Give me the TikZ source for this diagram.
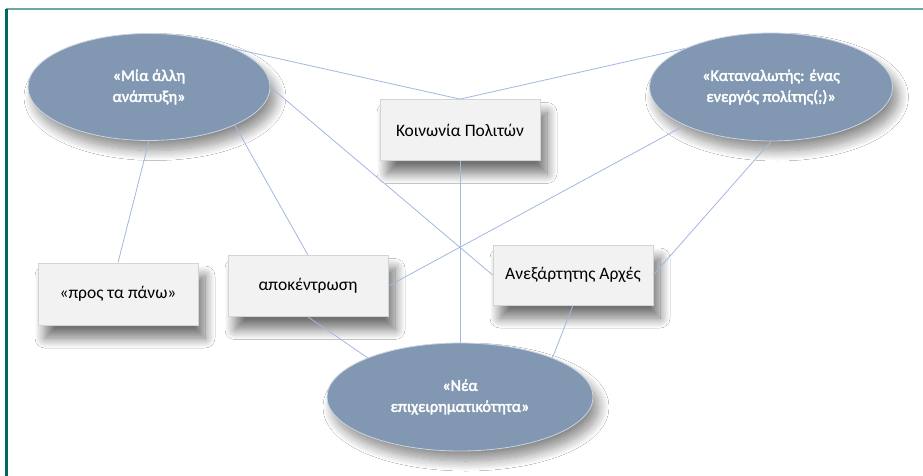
\documentclass[tikz,border=0pt]{standalone}
\usepackage{fontspec}
\setmainfont{Carlito}[AutoFakeBold=2.5]
\usetikzlibrary{shapes.geometric,shadows.blur}
\definecolor{ovalfill}{HTML}{8297B1}
\definecolor{ovaledge}{HTML}{C9D3E2}
\definecolor{cardfill}{HTML}{F2F2F2}
\definecolor{cardedge}{HTML}{D4D4D4}
\definecolor{linkblue}{HTML}{A3B8E0}
\definecolor{frametop}{HTML}{6FA5A2}
\definecolor{frameleft}{HTML}{00695E}
\tikzset{>=stealth,
  oval/.style={ellipse, fill=ovalfill, draw=ovaledge, line width=0.8pt, text=white,
    font=\fontsize{16.2}{21}\selectfont\bfseries, align=center, inner sep=0pt,
    blur shadow={shadow xshift=6pt, shadow yshift=-10pt, shadow blur radius=10pt, shadow opacity=45, shadow blur steps=14}},
  card/.style={rectangle, fill=cardfill, draw=cardedge, line width=0.8pt, text=black,
    font=\fontsize{17.5}{21}\selectfont, minimum width=160pt, minimum height=61pt, inner sep=0pt,
    blur shadow={shadow xshift=7pt, shadow yshift=-13pt, shadow blur radius=10pt, shadow opacity=55, shadow blur steps=14}},
  link/.style={draw=linkblue, line width=0.8pt}}

\begin{document}
\begin{tikzpicture}[x=1pt,y=-1pt]
\useasboundingbox[fill=white] (0,0) rectangle (923,476);
\draw[frametop, line width=2pt] (6,9.5) -- (923,9.5);
\draw[frameleft, line width=2.5pt] (6.5,9) -- (6.5,476);
\node[oval, minimum width=242pt, minimum height=107pt] (E1) at (149,87) {«Μία άλλη\\ανάπτυξη»};
\node[oval, minimum width=243pt, minimum height=108pt] (E2) at (771,87) {«Καταναλωτής: ένας\\ενεργός πολίτης(;)»};
\node[oval, minimum width=266pt, minimum height=108pt] (E3) at (460,397) {«Νέα\\επιχειρηματικότητα»};
\node[card] (KP) at (460,130) {Κοινωνία Πολιτών};
\node[card, minimum height=62pt] (PP) at (118,294) {«προς τα πάνω»};
\node[card] (AP) at (308,286) {αποκέντρωση};
\node[card, minimum height=60pt] (AA) at (573,275) {Ανεξάρτητης Αρχές};
\draw[link] (E1.24) -- (KP.north);
\draw[link] (E2.156) -- (KP.north);
\draw[link] (E1.east) -- (AA.west);
\draw[link] (E1.south) -- (PP.north);
\draw[link] (E1.-24) -- (AP.north);
\draw[link] (E2.204) -- (AP.east);
\draw[link] (E2.south) -- (AA.east);
\draw[link] (KP.south) -- (E3.north);
\draw[link] (AP.south) -- (E3.157);
\draw[link] (AA.south) -- (E3.23);
\end{tikzpicture}
\end{document}
